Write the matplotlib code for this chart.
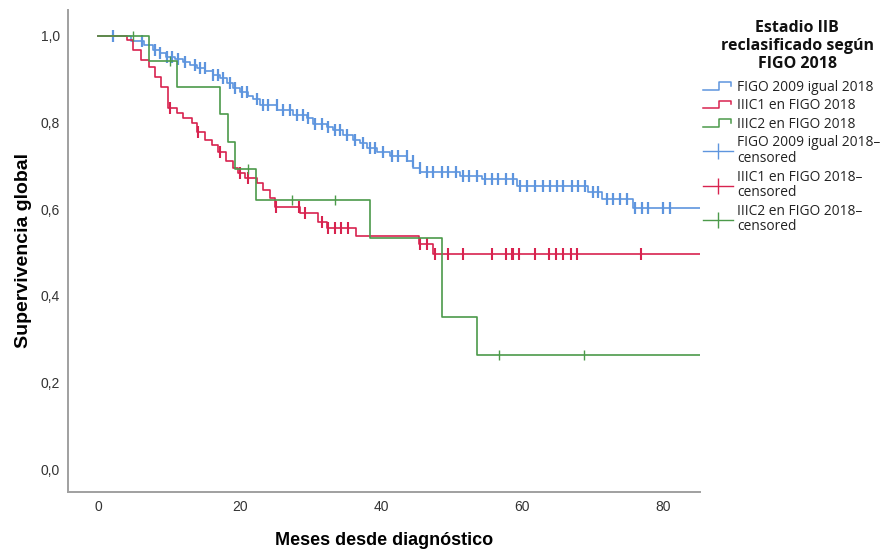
import numpy as np
import matplotlib
matplotlib.use("Agg")
import matplotlib.pyplot as plt
from matplotlib.lines import Line2D
from matplotlib.legend_handler import HandlerBase
from matplotlib.ticker import FuncFormatter

# Kaplan-Meier curves (months, survival after the drop)
blue_t = [4.6, 6.5, 7.8, 8.7, 9.6, 10.8, 12.0, 12.9, 13.9, 15.1, 16.2, 17.2, 18.2, 19.0, 20.0,
          21.2, 21.9, 22.9, 25.3, 27.5, 29.5, 30.4, 32.4, 33.2, 34.6, 36.0, 37.0, 38.0, 39.4,
          41.3, 43.7, 44.6, 45.6, 51.2, 54.3, 59.3, 69.3, 71.3, 75.7]
blue_s = [0.988, 0.978, 0.968, 0.960, 0.952, 0.946, 0.940, 0.933, 0.926, 0.918, 0.910, 0.902,
          0.891, 0.880, 0.871, 0.862, 0.855, 0.841, 0.829, 0.818, 0.810, 0.796, 0.790, 0.783,
          0.771, 0.760, 0.753, 0.742, 0.732, 0.722, 0.710, 0.696, 0.685, 0.677, 0.670, 0.654,
          0.640, 0.623, 0.602]
blue_cens = [2.05, 6.16, 8.0, 8.71, 9.7, 10.41, 11.26, 12.25, 13.66, 14.37, 15.08, 16.21, 16.92,
             17.63, 18.62, 19.33, 20.32, 21.03, 22.44, 23.29, 24.0, 25.27, 26.12, 27.12, 28.11,
             28.96, 29.66, 30.65, 31.65, 32.5, 33.49, 34.19, 35.18, 36.32, 37.45, 38.44, 39.15,
             40.28, 41.56, 42.41, 43.68, 44.53, 45.52, 46.51, 47.36, 48.64, 49.49, 50.62, 51.61,
             52.46, 53.59, 54.73, 55.72, 56.57, 57.7, 58.69, 59.68, 60.67, 61.81, 62.94, 63.93,
             64.92, 65.77, 67.05, 67.89, 68.88, 70.02, 70.73, 72.0, 72.85, 73.84, 74.83, 75.96,
             76.95, 77.8, 79.93, 80.92]

red_t = [4.0, 4.9, 6.1, 7.1, 8.0, 8.9, 9.9, 11.1, 12.0, 13.2, 13.9, 15.1, 16.1, 17.0, 18.1,
         19.0, 19.8, 20.8, 22.4, 23.3, 24.3, 25.0, 28.6, 31.1, 32.3, 36.5, 45.4, 47.4]
red_s = [0.990, 0.968, 0.945, 0.929, 0.906, 0.883, 0.833, 0.821, 0.810, 0.798, 0.778, 0.760,
         0.748, 0.733, 0.710, 0.694, 0.683, 0.671, 0.660, 0.644, 0.625, 0.605, 0.592, 0.571,
         0.556, 0.537, 0.519, 0.496]
red_cens = [10.1, 14.1, 17.2, 20.1, 21.2, 25.2, 28.4, 29.3, 31.6, 32.5, 33.5, 34.4, 35.4, 45.5,
            46.5, 47.6, 49.5, 51.6, 55.7, 57.7, 58.5, 58.7, 59.6, 61.8, 63.8, 64.8, 65.8, 66.9,
            67.8, 76.9]

green_t = [7.2, 11.2, 17.2, 18.3, 19.3, 22.3, 38.4, 48.6, 53.6]
green_s = [0.941, 0.882, 0.820, 0.755, 0.692, 0.621, 0.533, 0.352, 0.263]
green_cens = [4.9, 10.1, 21.2, 27.4, 33.5, 56.7, 68.8]

groups = ["FIGO 2009 igual 2018", "IIIC1 en FIGO 2018", "IIIC2 en FIGO 2018"]
legend_title = "Estadio IIB\nreclasificado según\nFIGO 2018"
colors = ["#5e95de", "#d8234f", "#4c9a4a"]
cens_ms = [9, 9, 7]
cens_mew = [1.6, 1.5, 1.0]

XMIN, XMAX = -4.3, 85.2
FONT = ["Liberation Sans", "DejaVu Sans"]


class StepHandler(HandlerBase):
    def create_artists(self, legend, orig_handle, xdescent, ydescent, width, height, fontsize, trans):
        x = np.array([0.0, 0.55, 0.55, 0.92, 0.92]) * width - xdescent
        y = np.array([0.1, 0.1, 0.9, 0.9, 0.55]) * height - ydescent
        ln = Line2D(x, y, color=orig_handle.get_color(), lw=1.1, transform=trans)
        return [ln]


fig = plt.figure(figsize=(8.94, 5.51), dpi=100)
ax = fig.add_axes([0.0761, 0.1071, 0.707, 0.875])

step_handles, cens_handles = [], []
for times, surv, cens, c, ms, mew in [(blue_t, blue_s, blue_cens, colors[0], cens_ms[0], cens_mew[0]),
                                      (red_t, red_s, red_cens, colors[1], cens_ms[1], cens_mew[1]),
                                      (green_t, green_s, green_cens, colors[2], cens_ms[2], cens_mew[2])]:
    xs = np.r_[0.0, times, XMAX]
    ys = np.r_[1.0, surv, surv[-1]]
    ax.step(xs, ys, where="post", color=c, lw=1.2)
    full = np.r_[1.0, surv]
    cy = full[np.searchsorted(times, cens, side="right")]
    ax.plot(cens, cy, ls="none", marker="|", ms=ms, mew=mew, color=c)
    step_handles.append(Line2D([], [], color=c, lw=1.1))
    cens_handles.append(Line2D([], [], color=c, lw=1.0, marker="|", ms=12, mew=1.0))

ax.set_xlim(XMIN, XMAX)
ax.set_ylim(-0.053, 1.06)
ax.set_xticks([0, 20, 40, 60, 80])
ax.set_yticks([0, 0.2, 0.4, 0.6, 0.8, 1.0])
ax.yaxis.set_major_formatter(FuncFormatter(lambda v, p: f"{v:.1f}".replace(".", ",")))
ax.tick_params(length=0, labelsize=10, labelcolor="#333333", pad=6)
for lab in ax.get_xticklabels() + ax.get_yticklabels():
    lab.set_family(FONT)
for s in ["top", "right"]:
    ax.spines[s].set_visible(False)
for s in ["left", "bottom"]:
    ax.spines[s].set_color("#a0a0a0")
    ax.spines[s].set_linewidth(1.4)

ax.set_xlabel("Meses desde diagnóstico", fontsize=13, fontweight="bold", family=FONT, labelpad=13)
ax.set_ylabel("Supervivencia global", fontsize=14, fontweight="bold", family=FONT, labelpad=6)

fig.text(0.8915, 1 - 20 / 551, legend_title, ha="center", va="top", multialignment="center",
         fontsize=11.5, fontweight="bold", family="Open Sans", linespacing=1.17, color="#111111")

labels = groups + [g + "–\ncensored" for g in groups]
handles = step_handles + cens_handles
leg = fig.legend(handles, labels, loc="upper left", bbox_to_anchor=(0.786, 1 - 80 / 551), frameon=False,
                 prop={"family": "Open Sans", "size": 9.9},
                 handlelength=2.2, handletextpad=0.3, labelspacing=0.25, borderaxespad=0, borderpad=0,
                 handler_map={h: StepHandler() for h in step_handles})
for t in leg.get_texts():
    t.set_linespacing(1.07)
    t.set_color("#222222")

fig.savefig("out.png", dpi=100)
